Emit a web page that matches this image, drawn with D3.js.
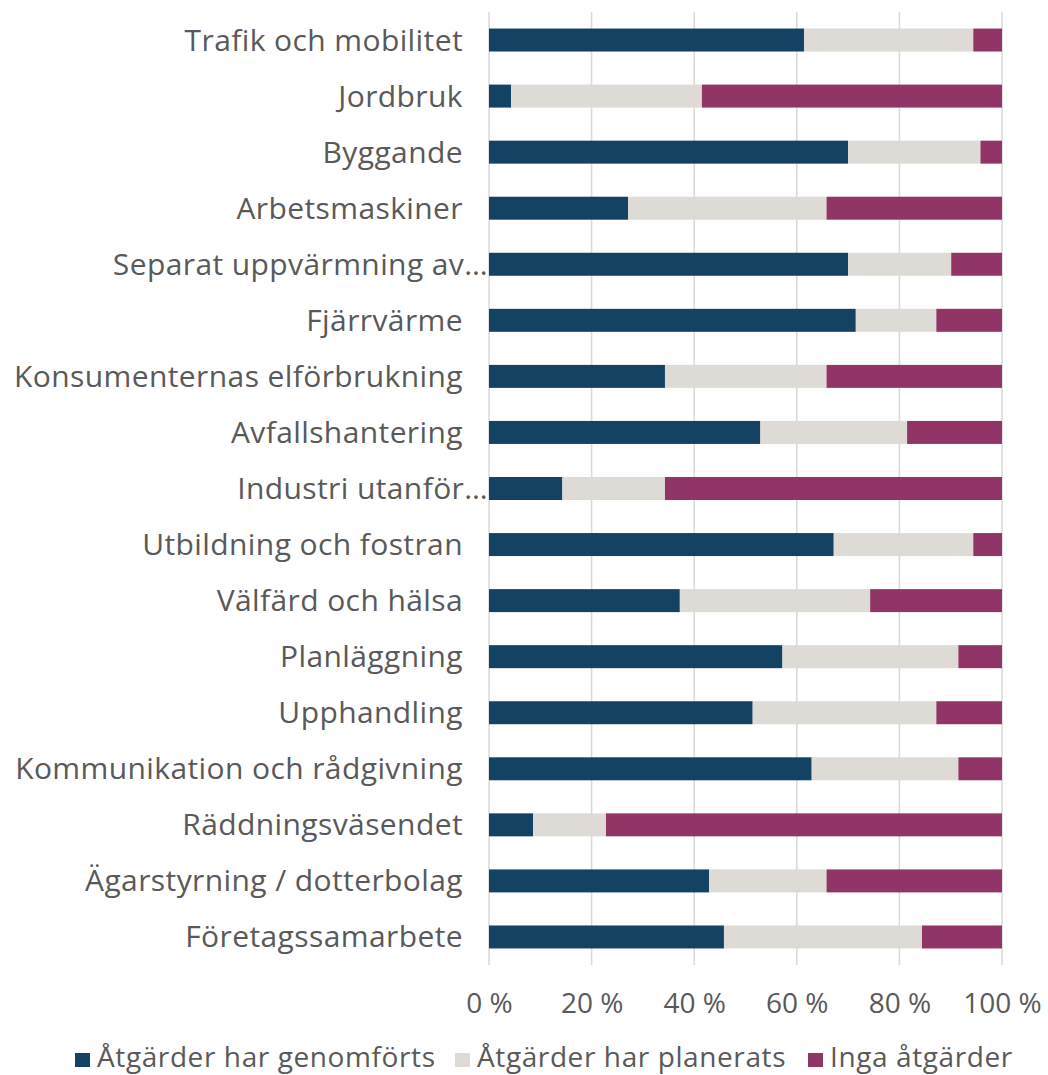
<!DOCTYPE html>
<html>
    <head>
        <meta charset="utf-8">
        <title>Åtgärder per område</title>
        <style>
            body { margin: 0; background: #fff; }
            .cat, .tick text, .legend text { font-family: "Open Sans", sans-serif; fill: #595959; }
        </style>
    </head>
    <body>
        <script src="https://cdn.jsdelivr.net/npm/d3@7"></script>
        <script>

            var categories = [
                "Trafik och mobilitet", "Jordbruk", "Byggande", "Arbetsmaskiner",
                "Separat uppvärmning av…", "Fjärrvärme", "Konsumenternas elförbrukning",
                "Avfallshantering", "Industri utanför…", "Utbildning och fostran",
                "Välfärd och hälsa", "Planläggning", "Upphandling",
                "Kommunikation och rådgivning", "Räddningsväsendet",
                "Ägarstyrning / dotterbolag", "Företagssamarbete"
            ];
            var genomforts = [61.4, 4.3, 70.0, 27.1, 70.0, 71.5, 34.3, 52.9, 14.3, 67.2, 37.2, 57.2, 51.4, 62.9, 8.6, 42.9, 45.8];
            var planerats  = [33.0, 37.2, 25.8, 38.7, 20.1, 15.7, 31.5, 28.6, 20.0, 27.2, 37.1, 34.3, 35.8, 28.6, 14.2, 22.9, 38.6];
            var inga       = [5.6, 58.5, 4.2, 34.2, 9.9, 12.8, 34.2, 18.5, 65.7, 5.6, 25.7, 8.5, 12.8, 8.5, 77.2, 34.2, 15.6];
            var seriesNames = ["Åtgärder har genomförts", "Åtgärder har planerats", "Inga åtgärder"];
            var seriesColors = ["#134263", "#dedad6", "#913567"];
            var tickValues = [0, 20, 40, 60, 80, 100];

            var width = 1048, height = 1075;
            var plotLeft = 489, plotRight = 1002, plotTop = 12, plotBottom = 965;

            var rows = categories.map(function (c, i) {
                return { cat: c, a: genomforts[i], b: planerats[i], c: inga[i] };
            });
            var stack = d3.stack().keys(["a", "b", "c"])(rows);

            var x = d3.scaleLinear().domain([0, 100]).range([plotLeft, plotRight]);
            var y = d3.scaleBand().domain(categories).range([plotTop, plotBottom]).paddingInner(0.59).paddingOuter(0.295);

            var svg = d3.select("body").append("svg")
                    .attr("width", width)
                    .attr("height", height);

            // gridlines
            svg.append("g").selectAll("line")
                    .data(tickValues)
                    .join("line")
                    .attr("x1", d => x(d)).attr("x2", d => x(d))
                    .attr("y1", plotTop).attr("y2", plotBottom)
                    .attr("stroke", "#d9d9d9")
                    .attr("stroke-width", 1.5);

            svg.append("g").selectAll("g")
                    .data(stack)
                    .join("g")
                    .attr("fill", (d, i) => seriesColors[i])
                    .selectAll("rect")
                    .data(d => d)
                    .join("rect")
                    .attr("x", d => x(d[0]))
                    .attr("width", d => x(d[1]) - x(d[0]))
                    .attr("y", d => y(d.data.cat))
                    .attr("height", y.bandwidth());

            // category labels
            svg.append("g").selectAll("text")
                    .data(categories)
                    .join("text")
                    .attr("class", "cat")
                    .attr("x", d => d.endsWith("…") ? 488 : 463)
                    .attr("y", d => y(d) + y.bandwidth() / 2)
                    .attr("dy", "0.35em")
                    .attr("text-anchor", "end")
                    .attr("font-size", 30)
                    .attr("letter-spacing", 0.4)
                    .text(d => d);

            // x axis
            var xAxis = svg.append("g")
                    .attr("transform", "translate(0," + plotBottom + ")")
                    .call(d3.axisBottom(x).tickValues(tickValues).tickSize(0).tickPadding(28).tickFormat(d => d + " %"));
            xAxis.select(".domain").remove();
            xAxis.selectAll("text").attr("font-size", 28).attr("fill", "#595959");

            // legend
            var legendX = [75, 455, 808];
            var legend = svg.append("g").attr("class", "legend")
                    .selectAll("g")
                    .data(seriesNames)
                    .join("g")
                    .attr("transform", (d, i) => "translate(" + legendX[i] + ",1067)");
            legend.append("rect")
                    .attr("y", -14).attr("width", 15).attr("height", 14)
                    .attr("fill", (d, i) => seriesColors[i]);
            legend.append("text")
                    .attr("x", 22)
                    .attr("font-size", 28)
                    .attr("letter-spacing", 0.6)
                    .text(d => d);

        </script>
    </body>
</html>
